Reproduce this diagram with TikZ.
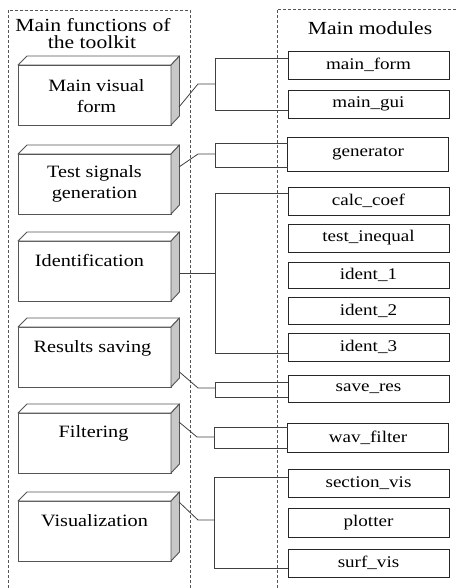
\documentclass[tikz,border=0pt]{standalone}
\usepackage{fontspec}
\newfontfamily\titlefont[FakeStretch=1.17]{Liberation Serif}
\newcommand\lbset{\titlefont\fontsize{17.3}{21}\selectfont}
\newcommand\mdset{\titlefont\fontsize{16.3}{21}\selectfont}
\newcommand\ttset{\titlefont\fontsize{18.5}{17}\selectfont}
\usetikzlibrary{calc}
\definecolor{sidegray}{HTML}{C8C8C8}
\definecolor{edgegray}{HTML}{555555}
\definecolor{linegray}{HTML}{404040}
\begin{document}
\begin{tikzpicture}[x=1pt,y=-1pt,
  fbox/.style={draw=edgegray,line width=0.9pt,fill=white,minimum width=153pt,minimum height=60pt,inner sep=0pt,outer sep=0pt},
  flabel/.style={align=center,inner sep=0pt},
  mbox/.style={draw=black!85,line width=0.8pt,minimum width=161pt,inner sep=0pt,outer sep=0pt},
  conn/.style={draw=linegray,line width=0.8pt},
  frame/.style={draw=edgegray,line width=0.8pt,dash pattern=on 3pt off 2pt},
  ttl/.style={inner sep=0pt}]
\useasboundingbox (0,0) rectangle (456,588);
% dashed frames
\draw[frame] (8,588) -- (8,10) -- (190,10) -- (190,588);
\draw[frame] (277,588) -- (277,9) -- (456,9);
% titles
\node[ttl,anchor=base] (t1) at (93,32) {\ttset Main functions of};
\node[ttl,anchor=base] (t2) at (92,49) {\ttset the toolkit};
\node[ttl,anchor=base] (t3) at (370,35) {\ttset Main modules};
% 3D boxes
\newcommand\tdbox[2]{%
  \node[fbox] (#1) at (94.5,#2+30) {};
  \draw[edgegray,line width=0.9pt,fill=white,line join=round] (#1.north west) -- ++(9,-9) -- ($(#1.north east)+(8.5,-9)$) -- (#1.north east) -- cycle;
  \draw[edgegray,line width=0.9pt,fill=sidegray,line join=round] (#1.north east) -- ++(8.5,-9) -- ($(#1.south east)+(8.5,-9)$) -- (#1.south east) -- cycle;
}
\tdbox{f1}{65}
\tdbox{f2}{154}
\tdbox{f3}{241}
\tdbox{f4}{327}
\tdbox{f5}{413}
\tdbox{f6}{501}
\node[flabel,anchor=base] (l1a) at ($(f1.north)+(2,27)$) {\lbset Main visual};
\node[flabel,anchor=base] (l1b) at ($(f1.north)+(2,48)$) {\lbset form};
\node[flabel,anchor=base] (l2a) at ($(f2.north)+(0,23)$) {\lbset Test signals};
\node[flabel,anchor=base] (l2b) at ($(f2.north)+(0,44)$) {\lbset generation};
\node[flabel,anchor=base] (l3) at ($(f3.north)+(-5,25)$) {\lbset Identification};
\node[flabel,anchor=base] (l4) at ($(f4.north)+(-2,25)$) {\lbset Results saving};
\node[flabel,anchor=base] (l5) at ($(f5.north)+(-1,24)$) {\lbset Filtering};
\node[flabel,anchor=base] (l6) at ($(f6.north)+(0,25)$) {\lbset Visualization};
% modules
\node[mbox,minimum height=28pt] (m1) at (368.5,65) {\mdset main\_form};
\node[mbox,minimum height=28pt] (m2) at (368.5,104) {\mdset main\_gui};
\node[mbox,minimum height=34pt] (m3) at (368,154) {\mdset generator};
\node[mbox,minimum height=28pt] (m4) at (368.5,201) {\mdset calc\_coef};
\node[mbox,minimum height=28pt] (m5) at (368.5,238) {\mdset test\_inequal};
\node[mbox,minimum height=26pt] (m6) at (368.5,275) {\mdset ident\_1};
\node[mbox,minimum height=27pt] (m7) at (368.5,310.5) {\mdset ident\_2};
\node[mbox,minimum height=28pt] (m8) at (368.5,347) {\mdset ident\_3};
\node[mbox,minimum height=27pt] (m9) at (368.5,388.5) {\mdset save\_res};
\node[mbox,minimum height=29pt] (m10) at (368,437.5) {\mdset wav\_filter};
\node[mbox,minimum height=28pt] (m11) at (368.5,483) {\mdset section\_vis};
\node[mbox,minimum height=29pt] (m12) at (368.5,522.5) {\mdset plotter};
\node[mbox,minimum height=28pt] (m13) at (368.5,563) {\mdset surf\_vis};
% connector start points on side faces
\coordinate (s1) at (179,107);
\coordinate (s2) at (179,167);
\coordinate (s3) at (179.5,273);
\coordinate (s4) at (179.5,372);
\coordinate (s5) at (179,422);
\coordinate (s6) at (179,502);
% group 1
\draw[conn] (s1) -- (198,84) -- (215,84);
\draw[conn] (m1.west |- 0,58) -- (215,58) -- (215,110) -- (m2.west |- 0,110);
% group 2
\draw[conn] (s2) -- (198,154) -- (215,154);
\draw[conn] (m3.west |- 0,143) -- (215,143) -- (215,167) -- (m3.west |- 0,167);
% group 3
\draw[conn] (s3) -- (215,273);
\draw[conn] (m4.west |- 0,193) -- (215,193) -- (215,353) -- (m8.west |- 0,353);
% group 4
\draw[conn] (s4) -- (198,388) -- (215,388);
\draw[conn] (m9.west |- 0,382) -- (215,382) -- (215,397) -- (m9.west |- 0,397);
% group 5
\draw[conn] (s5) -- (197,437) -- (214,437);
\draw[conn] (m10.west |- 0,427) -- (214,427) -- (214,448) -- (m10.west |- 0,448);
% group 6
\draw[conn] (s6) -- (198,520) -- (214,520);
\draw[conn] (m11.west |- 0,477) -- (214,477) -- (214,568) -- (m13.west |- 0,568);
\end{tikzpicture}
\end{document}
